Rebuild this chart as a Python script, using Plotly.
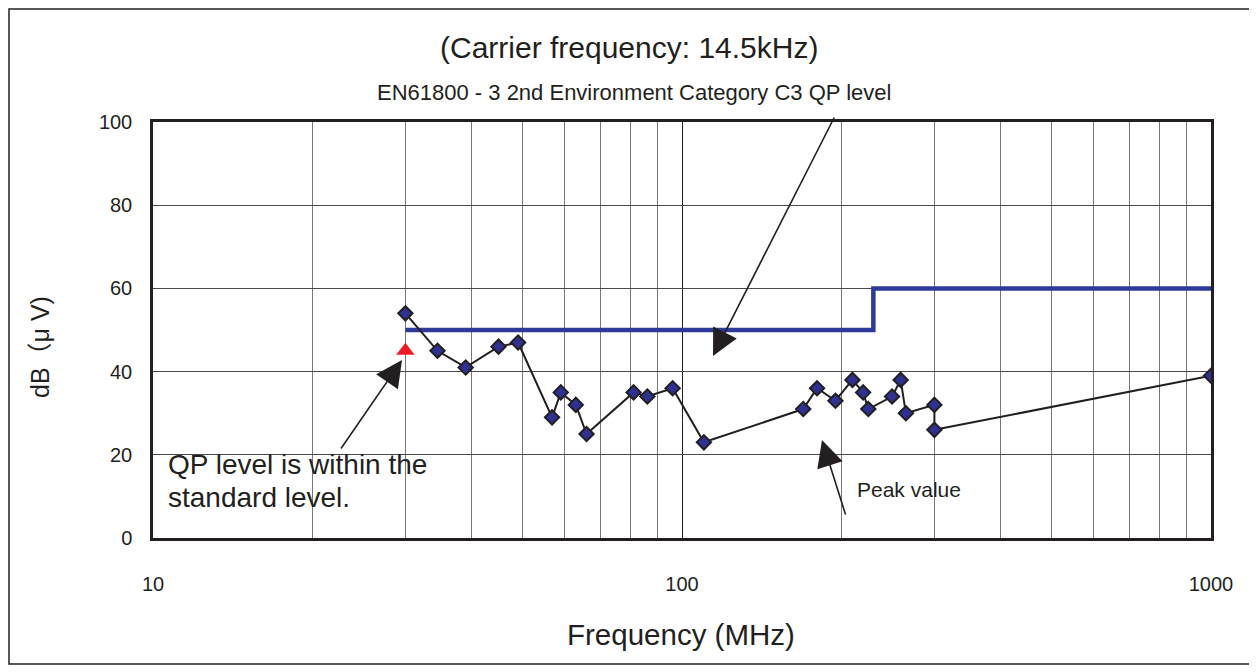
import plotly.graph_objects as go

# Measured peak values
freq_mhz = [30, 34.5, 39, 45, 49, 56.8, 59, 63, 66, 81, 86, 96, 110,
            169.5, 180, 195, 210, 220, 225, 249.5, 259, 265, 300, 300, 1000]
level_db = [54, 45, 41, 46, 47, 29, 35, 32, 25, 35, 34, 36, 23,
            31, 36, 33, 38, 35, 31, 34, 38, 30, 32, 26, 39]

# QP level point
qp_freq = [30]
qp_level = [45]

# EN61800-3 C3 QP limit
limit_freq = [30, 230, 1000]
limit_level = [50, 60, 60]

x_tickvals = [10, 100, 1000]
x_ticktext = ["10", "100", "1000"]
x_minor = [20, 30, 40, 50, 60, 70, 80, 90, 200, 300, 400, 500, 600, 700, 800, 900]
y_tickvals = [0, 20, 40, 60, 80, 100]

# page has an 8px body margin; figure is sized to fit the window
OFF = 8
W, H = 1257 - OFF, 672 - OFF
PL, PR, PT, PB = 153, 1211, 122, 538          # plot area in page pixels
L, T = PL - OFF, PT - OFF
R, B = W - (PR - OFF), H - (PB - OFF)
PW, PH = PR - PL, PB - PT


def px(x):
    return (x - PL) / PW


def py(y):
    return (PB - y) / PH


FONT = "Liberation Sans, Arial, Helvetica, sans-serif"
TXT = "#231F20"

fig = go.Figure()

fig.add_trace(go.Scatter(
    x=limit_freq, y=limit_level, mode="lines",
    line=dict(color="#2E3A9A", width=4.5, shape="hv"),
    hoverinfo="skip", showlegend=False))

fig.add_trace(go.Scatter(
    x=freq_mhz, y=level_db, mode="lines+markers",
    line=dict(color="#231F20", width=2),
    marker=dict(symbol="diamond", size=11, color="#2E3192",
                line=dict(color="#231F20", width=2)),
    showlegend=False))

fig.add_trace(go.Scatter(
    x=qp_freq, y=qp_level, mode="markers",
    marker=dict(symbol="triangle-up", size=16, color="#ED1C24"),
    showlegend=False))

fig.update_xaxes(
    type="log", range=[1, 3],
    tickvals=x_tickvals, ticktext=x_ticktext,
    showgrid=True, gridcolor="#231F20", gridwidth=1,
    minor=dict(tickvals=x_minor, showgrid=True, gridcolor="#777777", gridwidth=1, ticklen=0),
    showline=True, linecolor="#231F20", linewidth=2.5, mirror=True,
    ticks="outside", ticklen=26, tickcolor="rgba(0,0,0,0)", zeroline=False,
    tickfont=dict(family=FONT, size=20, color=TXT),
)
fig.update_yaxes(
    range=[0, 100], tickvals=y_tickvals,
    showgrid=True, gridcolor="#4a4a4a", gridwidth=1,
    showline=True, linecolor="#231F20", linewidth=2.5, mirror=True,
    ticks="outside", ticklen=14, tickcolor="rgba(0,0,0,0)",
    zeroline=False,
    tickfont=dict(family=FONT, size=20, color=TXT),
)

annotations = [
    dict(text="(Carrier frequency: 14.5kHz)", x=px(629), y=py(47), font=dict(size=30)),
    dict(text="EN61800 - 3 2nd Environment Category C3 QP level", x=px(634), y=py(92), font=dict(size=22)),
    dict(text="Frequency (MHz)", x=px(681), y=py(634), font=dict(size=29.5)),
    dict(text="dB（μ V)", x=px(40), y=py(347), textangle=-90, font=dict(size=25)),
    dict(text="QP level is within the", x=px(166), y=py(464), xanchor="left", font=dict(size=28)),
    dict(text="standard level.", x=px(166), y=py(497), xanchor="left", font=dict(size=28)),
    dict(text="Peak value", x=px(855), y=py(489), xanchor="left", font=dict(size=21)),
]
for a in annotations:
    a.setdefault("xanchor", "center")
    a.update(xref="paper", yref="paper", showarrow=False, yanchor="middle")
    a["font"] = dict(family=FONT + ", Noto Sans CJK JP", color=TXT, **a["font"])

arrows = [
    ((713, 356), (835, 116)),
    ((402, 360), (340, 450)),
    ((822, 440), (846, 516)),
]
for (tx, ty), (sx, sy) in arrows:
    annotations.append(dict(
        x=px(tx), y=py(ty), xref="paper", yref="paper", text="",
        showarrow=True, arrowhead=2, arrowsize=3.3, arrowwidth=1.6,
        arrowcolor="#231F20", ax=sx - tx, ay=sy - ty, standoff=0))

fig.update_layout(
    width=W, height=H,
    margin=dict(l=L, r=R, t=T, b=B),
    paper_bgcolor="white", plot_bgcolor="white",
    annotations=annotations,
    shapes=[dict(type="rect", xref="paper", yref="paper",
                 x0=px(9), x1=px(1250), y0=py(664), y1=py(9),
                 line=dict(color="#231F20", width=1.5), layer="below")],
)

fig.write_html("out.html")
